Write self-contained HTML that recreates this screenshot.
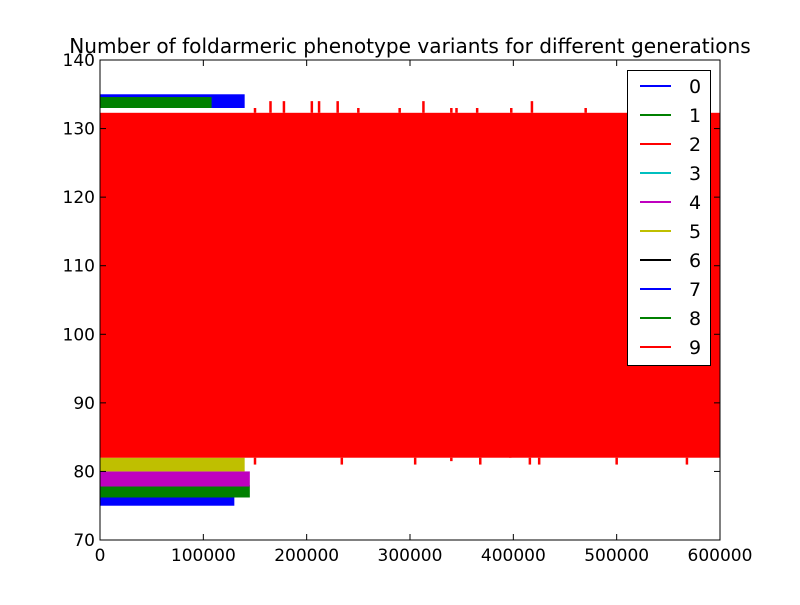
<!DOCTYPE html>
<html><head><meta charset="utf-8"><style>
body{margin:0;background:#fff;}
svg text{font-family:"DejaVu Sans","Liberation Sans",sans-serif;}
</style></head><body>
<svg id="chart" width="800" height="600" xmlns="http://www.w3.org/2000/svg">
<rect x="0" y="0" width="800" height="600" fill="#fff"/>
<text x="410" y="53" font-size="20.1" text-anchor="middle">Number of foldarmeric phenotype variants for different generations</text>
<g id="plot"></g>
<g id="axes"></g>
<g id="legend"></g>
</svg>
<script>
// Band data: [name, colour, xStart, xEnd, low, high]
const bandNames = ["0-top","1-top","7-bottom","8-bottom","4-band","5-band","2-main"];
const bandColors = ["#0000ff","#008000","#0000ff","#008000","#bf00bf","#bfbf00","#ff0000"];
const bandStart = [0,0,0,0,0,0,0];
const bandEnd = [140000,108000,130000,145000,145000,140000,600000];
const bandLow = [133,133,75,76.2,77.8,80,82];
const bandHigh = [135,134.6,77,78,80,82,132.3];
// red spikes (x, value)
const spikeX = [150000,165000,178000,205000,212000,230000,250000,290000,313000,340000,345000,365000,398000,418000,470000,540000,150000,234000,305000,340000,368000,397000,416000,425000,500000,568000];
const spikeV = [133,134,134,134,134,134,133,133,134,133,133,133,133,134,133,133,81,81,81,81.5,81,82.5,81,81,81,81];
const xTicks = [0,100000,200000,300000,400000,500000,600000];
const yTicks = [70,80,90,100,110,120,130,140];
const legendLabels = ["0","1","2","3","4","5","6","7","8","9"];
const legendColors = ["#0000ff","#008000","#ff0000","#00bfbf","#bf00bf","#bfbf00","#000000","#0000ff","#008000","#ff0000"];

const L=100,R=720,T=60,B=540;
const xs=v=>L+(v-0)/600000*(R-L);
const ys=v=>T+(140-v)/70*(B-T);
const NS="http://www.w3.org/2000/svg";
function mk(tag,attrs,parent){const e=document.createElementNS(NS,tag);for(const k in attrs)e.setAttribute(k,attrs[k]);parent.appendChild(e);return e;}
const plot=document.getElementById('plot');
const order=[0,1,2,3,4,5,6];
order.forEach(i=>{
  const r=mk('rect',{x:xs(bandStart[i]),y:ys(bandHigh[i]),width:xs(bandEnd[i])-xs(bandStart[i]),height:ys(bandLow[i])-ys(bandHigh[i]),fill:bandColors[i]},plot);
  
  
});
spikeX.forEach((x,i)=>{
  const base=spikeV[i]>100?132.3:82;
  const l=mk('line',{x1:xs(x),x2:xs(x),y1:ys(base),y2:ys(spikeV[i]),stroke:'#ff0000','stroke-width':2.5},plot);
  
  
});
const ax=document.getElementById('axes');
const fr=mk('rect',{x:L,y:T,width:R-L,height:B-T,fill:'none',stroke:'#000','stroke-width':1},ax);


xTicks.forEach(v=>{
  const x=xs(v);
  mk('line',{x1:x,x2:x,y1:B,y2:B-6,stroke:'#000'},ax);
  mk('line',{x1:x,x2:x,y1:T,y2:T+6,stroke:'#000'},ax);
  const t=mk('text',{x:x,y:B+21,'font-size':17,'text-anchor':'middle'},ax);
  t.textContent=v;
  
  
});
yTicks.forEach(v=>{
  const y=ys(v);
  mk('line',{x1:L,x2:L+6,y1:y,y2:y,stroke:'#000'},ax);
  mk('line',{x1:R,x2:R-6,y1:y,y2:y,stroke:'#000'},ax);
  const t=mk('text',{x:L-5,y:y+6,'font-size':17,'text-anchor':'end'},ax);
  t.textContent=v;
  
  
});
const lg=document.getElementById('legend');


mk('rect',{x:627.5,y:70.5,width:83,height:295,fill:'#fff',stroke:'#000'},lg);
legendLabels.forEach((s,i)=>{
  const y=86+29*i;
  const g=mk('g',{},lg);
  
  
  mk('line',{x1:640,x2:671,y1:y,y2:y,stroke:legendColors[i],'stroke-width':2},g);
  const t=mk('text',{x:689,y:y+7,'font-size':19},g);
  t.textContent=s;
});
</script>
</body></html>
